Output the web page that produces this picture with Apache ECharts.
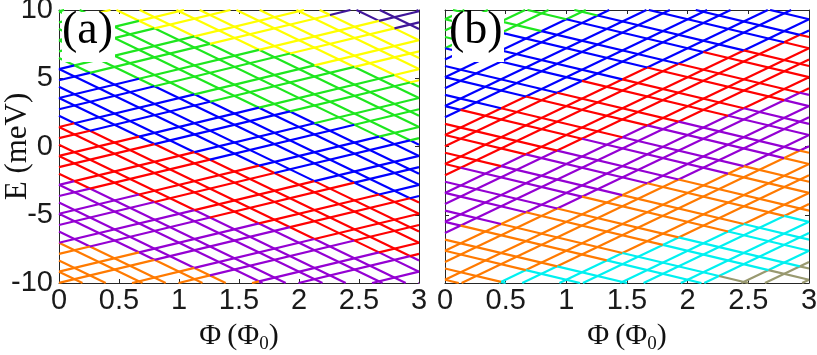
<!DOCTYPE html>
<html><head><meta charset="utf-8">
<script src="https://cdn.jsdelivr.net/npm/echarts@6/dist/echarts.min.js"></script>
<style>html,body{margin:0;padding:0;background:#fff}#c{width:817px;height:355px}</style>
</head><body><div id="c"></div>
<script>
// ---- data ----
const phiMin = 0, phiMax = 3, phiStep = 0.5;
const eMin = -10, eMax = 10, eStep = 5;

// panel (a): energies (meV) of each level at Φ = 3 Φ0
const aSteepSlope = -4.24;     // meV per Φ0, descending family
const aShallowSlope = 2.12;    // ascending family
const aSteepAt3 = [9.91, 8.61, 7.79, 6.49, 5.67, 4.37, 3.55, 2.25, 1.43, 0.13, -0.69, -1.99, -2.81, -4.11,
  -4.93, -6.23, -7.05, -8.35, -9.17, -10.47, -11.29, -12.59, -13.41, -14.71, -15.53, -16.83, -17.65,
  -18.95, -19.77, -21.07, -21.89];
const aShallowAt3 = [16.27, 15.45, 14.15, 13.33, 12.03, 11.21, 9.91, 9.09, 7.79, 6.97, 5.67, 4.85, 3.55,
  2.73, 1.43, 0.61, -0.69, -1.51, -2.81, -3.63, -4.93, -5.75, -7.05, -7.87, -9.17, -9.99];
const aBandSlope = -1.9;
const aBandEdgesAt0 = [14.2, 10.3, 6.0, 1.7, -2.5, -6.8];
const aColors = ['#40169a', '#ffff00', '#1ee61e', '#0000ff', '#ff0000', '#9400d3', '#ff7a00'];

// panel (b)
const bSteepSlope = 4.24;
const bShallowSlope = -2.12;
const bSteepAt3 = [22.04, 21.22, 19.92, 19.10, 17.80, 16.98, 15.68, 14.86, 13.56, 12.74, 11.44, 10.62,
  9.32, 8.50, 7.20, 6.38, 5.08, 4.26, 2.96, 2.14, 0.84, 0.02, -1.28, -2.10, -3.40, -4.22, -5.52, -6.34,
  -7.64, -8.46, -9.76];
const bShallowAt3 = [9.32, 8.02, 7.20, 5.90, 5.08, 3.78, 2.96, 1.66, 0.84, -0.46, -1.28, -2.58, -3.40,
  -4.70, -5.52, -6.82, -7.64, -8.94, -9.76, -11.06, -11.88, -13.18, -14.00, -15.30, -16.12];
const bBandSlope = 2.0;
const bBandEdgesAt0 = [7.2, 2.25, -2.0, -6.25, -10.6, -14.4];
const bColors = ['#1ee61e', '#0000ff', '#ff0000', '#9400d3', '#ff7a00', '#00f0f0', '#999970'];

// ---- build coloured segments ----
function buildSegments(steepAt3, steepSlope, shallowAt3, shallowSlope, edges, bandSlope, colors) {
  const fam = [];
  steepAt3.forEach(v => fam.push({ v, s: steepSlope, other: shallowAt3, os: shallowSlope }));
  shallowAt3.forEach(v => fam.push({ v, s: shallowSlope, other: steepAt3, os: steepSlope }));
  const out = [];
  fam.forEach(L => {
    const E = p => L.v + L.s * (p - phiMax);
    const cuts = [phiMin, phiMax];
    L.other.forEach(w => { const p = phiMax + (w - L.v) / (L.s - L.os); if (p > phiMin && p < phiMax) cuts.push(p); });
    [eMin, eMax].forEach(e => { const p = phiMax + (e - L.v) / L.s; if (p > phiMin && p < phiMax) cuts.push(p); });
    cuts.sort((a, b) => a - b);
    let cur = null;
    const flush = () => { if (cur) out.push({ coords: [[cur.p0, E(cur.p0)], [cur.p1, E(cur.p1)]], lineStyle: { color: cur.c } }); cur = null; };
    for (let i = 0; i < cuts.length - 1; i++) {
      const p0 = cuts[i], p1 = cuts[i + 1];
      if (p1 - p0 < 1e-9) continue;
      const pm = (p0 + p1) / 2, em = E(pm);
      if (em < eMin || em > eMax) { flush(); continue; }
      const u = em - bandSlope * pm;
      let b = 0; while (b < edges.length && u < edges[b]) b++;
      const c = colors[b];
      if (cur && cur.c === c) cur.p1 = p1; else { flush(); cur = { c, p0, p1 }; }
    }
    flush();
  });
  return out;
}
const segA = buildSegments(aSteepAt3, aSteepSlope, aShallowAt3, aShallowSlope, aBandEdgesAt0, aBandSlope, aColors);
const segB = buildSegments(bSteepAt3, bSteepSlope, bShallowAt3, bShallowSlope, bBandEdgesAt0, bBandSlope, bColors);

const axisCol = '#262626';
const tickFont = { fontFamily: '"Liberation Sans",Arial,sans-serif', fontSize: 29, color: '#1a1a1a' };
const serif = '"Liberation Serif","DejaVu Serif",serif';

function xAxes(gi) {
  return [{
    type: 'value', gridIndex: gi, min: phiMin, max: phiMax, interval: phiStep, position: 'bottom',
    axisLine: { show: true, onZero: false, lineStyle: { color: axisCol, width: 1 } },
    axisTick: { inside: true, length: 4, lineStyle: { color: axisCol } },
    splitLine: { show: false },
    axisLabel: Object.assign({ margin: 3 }, tickFont),
    name: '{t|Φ\u2009(Φ}{s|0}{t|)}', nameLocation: 'middle', nameGap: 36, nameMoveOverlap: false,
    nameTextStyle: { rich: { t: { fontFamily: serif, fontSize: 30, color: '#111' }, s: { fontFamily: serif, fontSize: 19, color: '#111', verticalAlign: 'bottom', padding: [16, 0, 0, 0] } } }
  }, {
    type: 'value', gridIndex: gi, min: phiMin, max: phiMax, interval: phiStep, position: 'top',
    axisLine: { show: true, onZero: false, lineStyle: { color: axisCol, width: 1 } },
    axisTick: { inside: true, length: 4, lineStyle: { color: axisCol } },
    splitLine: { show: false }, axisLabel: { show: false }
  }];
}
function yAxes(gi, showLabels) {
  return [{
    type: 'value', gridIndex: gi, min: eMin, max: eMax, interval: eStep, position: 'left',
    axisLine: { show: true, onZero: false, lineStyle: { color: axisCol, width: 1 } },
    axisTick: { inside: true, length: 4, lineStyle: { color: axisCol } },
    splitLine: { show: false },
    axisLabel: Object.assign({ show: showLabels, margin: 6 }, tickFont),
    name: showLabels ? 'E (meV)' : '', nameLocation: 'middle', nameGap: 26, nameRotate: 90, nameMoveOverlap: false,
    nameTextStyle: { fontFamily: serif, fontSize: 31, color: '#111' }
  }, {
    type: 'value', gridIndex: gi, min: eMin, max: eMax, interval: eStep, position: 'right',
    axisLine: { show: true, onZero: false, lineStyle: { color: axisCol, width: 1 } },
    axisTick: { inside: true, length: 4, lineStyle: { color: axisCol } },
    splitLine: { show: false }, axisLabel: { show: false }
  }];
}

const chart = echarts.init(document.getElementById('c'), null, { renderer: 'canvas' });
chart.setOption({
  backgroundColor: '#ffffff',
  animation: false,
  grid: [
    { left: 59, top: 10, width: 360, height: 273, containLabel: false, outerBoundsMode: 'none' },
    { left: 445, top: 10, width: 364, height: 273, containLabel: false, outerBoundsMode: 'none' }
  ],
  xAxis: [...xAxes(0), ...xAxes(1)],
  yAxis: [...yAxes(0, true), ...yAxes(1, false)],
  series: [
    { type: 'lines', coordinateSystem: 'cartesian2d', xAxisIndex: 0, yAxisIndex: 0, polyline: false, silent: true,
      lineStyle: { width: 2.2, opacity: 1 }, data: segA },
    { type: 'lines', coordinateSystem: 'cartesian2d', xAxisIndex: 2, yAxisIndex: 2, polyline: false, silent: true,
      lineStyle: { width: 2.2, opacity: 1 }, data: segB }
  ],
  graphic: [
    { type: 'rect', left: 62, top: 12, shape: { width: 53, height: 50 }, style: { fill: '#fff' }, z: 100 },
    { type: 'text', left: 62, top: 8, style: { text: '(a)', font: '46px ' + serif, fill: '#000' }, z: 101 },
    { type: 'rect', left: 452, top: 12, shape: { width: 52, height: 50 }, style: { fill: '#fff' }, z: 100 },
    { type: 'text', left: 449, top: 8, style: { text: '(b)', font: '46px ' + serif, fill: '#000' }, z: 101 }
  ]
});
</script></body></html>
